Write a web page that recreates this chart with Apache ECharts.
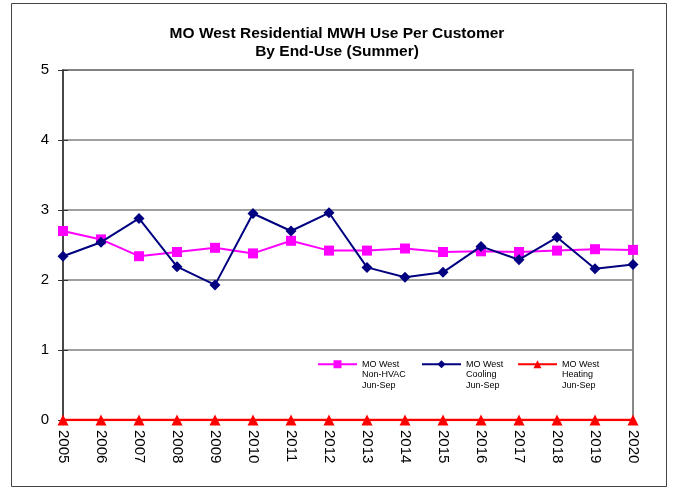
<!DOCTYPE html>
<html>
<head>
<meta charset="utf-8">
<script src="https://cdn.jsdelivr.net/npm/echarts@6/dist/echarts.min.js"></script>
<style>
  html, body { margin: 0; padding: 0; background: #fff; }
  #chart { width: 673px; height: 489px; }
</style>
</head>
<body>
<div id="chart"></div>
<script>
// Summer (Jun-Sep) residential MWH use per customer, MO West
const years = ['2005','2006','2007','2008','2009','2010','2011','2012',
               '2013','2014','2015','2016','2017','2018','2019','2020'];
const nonHvac = [2.70, 2.58, 2.34, 2.40, 2.46, 2.38, 2.56, 2.42,
                 2.42, 2.45, 2.40, 2.41, 2.40, 2.42, 2.44, 2.43];
const cooling = [2.34, 2.54, 2.88, 2.19, 1.93, 2.95, 2.70, 2.96,
                 2.18, 2.04, 2.11, 2.48, 2.29, 2.61, 2.16, 2.22];
const heating = [0, 0, 0, 0, 0, 0, 0, 0, 0, 0, 0, 0, 0, 0, 0, 0];
const seriesNames = ['MO West\nNon-HVAC\nJun-Sep', 'MO West\nCooling\nJun-Sep', 'MO West\nHeating\nJun-Sep'];
const yTicks = [0, 1, 2, 3, 4, 5];

const FONT = 'Liberation Sans, Arial, sans-serif';
const chart = echarts.init(document.getElementById('chart'), null, { renderer: 'canvas' });

// Each legend entry sits on its own; two blank lines above the label keep
// the first line level with the swatch.
function legendAt(name, x) {
  return {
    data: [name],
    left: x,
    top: 338,
    orient: 'horizontal',
    padding: 0,
    itemWidth: 39,
    itemHeight: 10,
    itemGap: 0,
    selectedMode: false,
    formatter: n => '\n\n' + n,
    textStyle: {
      fontFamily: FONT,
      fontSize: 9,
      color: '#000',
      lineHeight: 10.5
    }
  };
}

const yCommon = {
  type: 'value',
  min: yTicks[0],
  max: yTicks[yTicks.length - 1],
  interval: 1,
  position: 'left'
};

chart.setOption({
  animation: false,
  backgroundColor: '#fff',
  title: {
    text: 'MO West Residential MWH Use Per Customer\nBy End-Use (Summer)',
    left: 332,
    top: 20,
    textAlign: 'center',
    textStyle: {
      fontFamily: FONT,
      fontSize: 15.5,
      fontWeight: 'bold',
      color: '#000',
      lineHeight: 18
    }
  },
  graphic: [{
    type: 'rect',
    shape: { x: 11.5, y: 3.5, width: 655, height: 483 },
    style: { fill: 'none', stroke: '#444', lineWidth: 1 },
    silent: true,
    z: -1
  }],
  legend: [
    legendAt(seriesNames[0], 317),
    legendAt(seriesNames[1], 421),
    legendAt(seriesNames[2], 517)
  ],
  grid: {
    left: 63,
    right: 40,
    top: 70,
    bottom: 69,
    show: true,
    borderColor: '#888',
    borderWidth: 2,
    backgroundColor: 'transparent'
  },
  xAxis: {
    type: 'category',
    data: years,
    boundaryGap: false,
    axisLine: { show: false },
    axisTick: { show: false },
    splitLine: { show: false },
    axisLabel: {
      rotate: -90,
      margin: 10,
      fontFamily: FONT,
      fontSize: 15,
      color: '#000'
    }
  },
  yAxis: [
    Object.assign({}, yCommon, {
      axisLine: { show: true, lineStyle: { color: '#333', width: 1.5 } },
      axisTick: { show: true, length: 5, lineStyle: { color: '#333', width: 1 } },
      splitLine: { show: true, lineStyle: { color: '#808080', width: 1.5 } },
      axisLabel: {
        margin: 14,
        fontFamily: FONT,
        fontSize: 15,
        color: '#000'
      }
    }),
    // inner half of the crossing tick marks
    Object.assign({}, yCommon, {
      axisLine: { show: false },
      axisTick: { show: true, inside: true, length: 5, lineStyle: { color: '#333', width: 1 } },
      splitLine: { show: false },
      axisLabel: { show: false }
    })
  ],
  series: [
    {
      name: seriesNames[0],
      type: 'line',
      data: nonHvac,
      symbol: 'rect',
      symbolSize: 10,
      itemStyle: { color: '#FF00FF' },
      lineStyle: { color: '#FF00FF', width: 2 },
      z: 3
    },
    {
      name: seriesNames[1],
      type: 'line',
      data: cooling,
      symbol: 'diamond',
      symbolSize: 11,
      itemStyle: { color: '#000080' },
      lineStyle: { color: '#000080', width: 2 },
      z: 4
    },
    {
      name: seriesNames[2],
      type: 'line',
      data: heating,
      symbol: 'triangle',
      symbolSize: 11,
      itemStyle: { color: '#FF0000' },
      lineStyle: { color: '#FF0000', width: 2.5 },
      z: 5
    }
  ]
});
</script>
</body>
</html>
